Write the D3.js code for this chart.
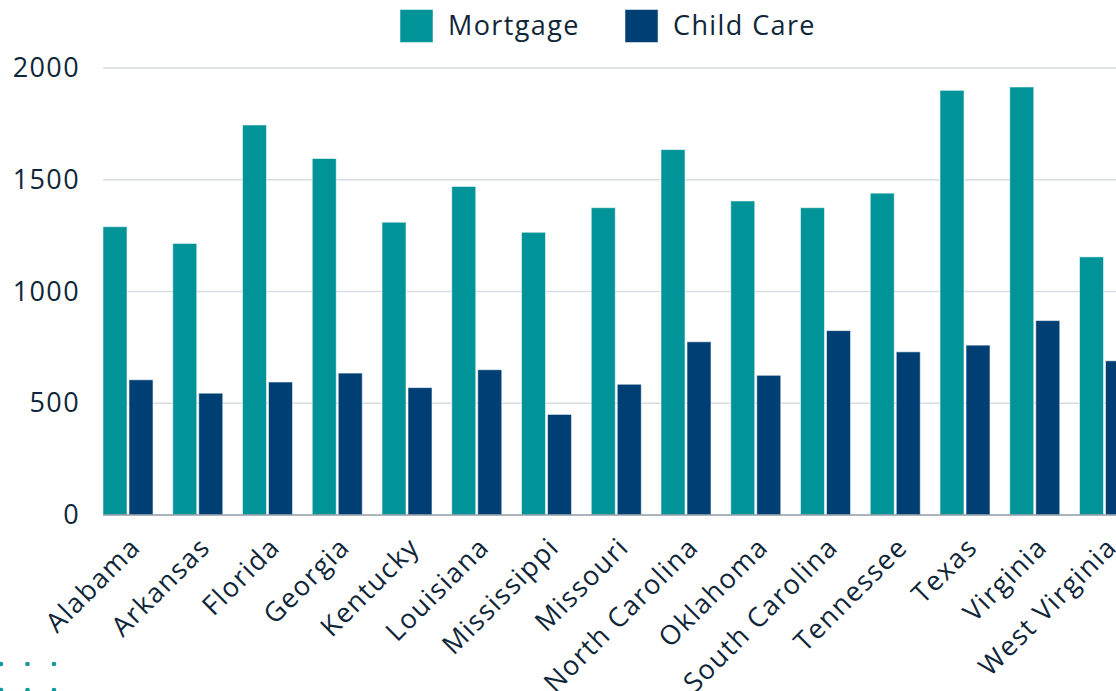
<!DOCTYPE html>
<html>
<head>
<meta charset="utf-8">
<script src="https://cdn.jsdelivr.net/npm/d3@7"></script>
<style>
  html, body { margin: 0; padding: 0; background: #ffffff; overflow: hidden; }
  svg { display: block; }
  text { font-family: "Open Sans", "DejaVu Sans", sans-serif; fill: #0f2639; }
</style>
</head>
<body>
<svg id="chart" width="1116" height="691"></svg>
<script>
// Monthly cost by state
const states = ["Alabama", "Arkansas", "Florida", "Georgia", "Kentucky", "Louisiana",
  "Mississippi", "Missouri", "North Carolina", "Oklahoma", "South Carolina",
  "Tennessee", "Texas", "Virginia", "West Virginia"];
const mortgage  = [1290, 1215, 1745, 1595, 1310, 1470, 1265, 1375, 1635, 1405, 1375, 1440, 1900, 1915, 1155];
const childCare = [605, 545, 595, 635, 570, 650, 450, 585, 775, 625, 825, 730, 760, 870, 690];
const seriesNames = ["Mortgage", "Child Care"];
const seriesColors = ["#009398", "#003f73"];
const yTicks = [0, 500, 1000, 1500, 2000];

const W = 1116, H = 691;
const plotLeft = 103, plotTop = 68, plotBottom = 515;
const step = 69.75, inner = 0.283;
const FONT = 27, SPACING = 1.4;

const svg = d3.select("#chart");

const x = d3.scaleBand()
  .domain(states)
  .range([plotLeft, plotLeft + step * (states.length - inner)])
  .paddingInner(inner)
  .paddingOuter(0);

const xs = d3.scaleBand()
  .domain(seriesNames)
  .range([0, x.bandwidth()])
  .paddingInner(0.077);

const y = d3.scaleLinear().domain([0, 2000]).range([plotBottom, plotTop]);

function styleText(sel) {
  sel.attr("font-size", FONT)
    .attr("font-weight", 500)
    .attr("letter-spacing", SPACING)
    .style("font-family", "'Open Sans', sans-serif")
    .attr("fill", "#0f2639");
}

// value labels
const yAxis = d3.axisLeft(y).tickValues(yTicks).tickFormat(d3.format("d")).tickSize(0).tickPadding(23);
const yG = svg.append("g").attr("transform", `translate(${plotLeft},0)`).call(yAxis);
yG.select(".domain").remove();
yG.selectAll("text").call(styleText);

// gridlines
svg.append("g").selectAll("line")
  .data(yTicks.filter(d => d > 0))
  .join("line")
  .attr("x1", plotLeft).attr("x2", W)
  .attr("y1", d => y(d)).attr("y2", d => y(d))
  .attr("stroke", "#d7dde2").attr("stroke-width", 1.5);

// bars
const rows = states.map((s, i) => ({ state: s, values: [mortgage[i], childCare[i]] }));
const groups = svg.append("g").selectAll("g")
  .data(rows)
  .join("g")
  .attr("transform", d => `translate(${x(d.state)},0)`);

groups.selectAll("rect")
  .data(d => d.values.map((v, k) => ({ key: seriesNames[k], value: v, k })))
  .join("rect")
  .attr("x", d => xs(d.key))
  .attr("width", xs.bandwidth())
  .attr("y", d => y(d.value))
  .attr("height", d => y(0) - y(d.value))
  .attr("fill", d => seriesColors[d.k])
  .attr("stroke", "rgba(255,255,255,0.55)")
  .attr("stroke-width", 1);

// baseline
svg.append("line")
  .attr("x1", plotLeft).attr("x2", W)
  .attr("y1", y(0)).attr("y2", y(0))
  .attr("stroke", "#8f9aa4").attr("stroke-width", 1.5);

// category labels
const xAxis = d3.axisBottom(x).tickSize(0).tickPadding(0);
const xG = svg.append("g").attr("transform", `translate(0,${plotBottom})`).call(xAxis);
xG.select(".domain").remove();
xG.selectAll("text")
  .call(styleText)
  .attr("text-anchor", "end")
  .attr("dy", null)
  .attr("transform", "translate(14,34) rotate(-45)");

// legend
const legend = svg.append("g");
const legendX = [400, 625];
seriesNames.forEach((name, i) => {
  legend.append("rect")
    .attr("x", legendX[i]).attr("y", 9.5)
    .attr("width", 33).attr("height", 33)
    .attr("fill", seriesColors[i])
    .attr("stroke", "rgba(255,255,255,0.5)");
  legend.append("text")
    .attr("x", legendX[i] + 48).attr("y", 24)
    .attr("dominant-baseline", "central")
    .call(styleText)
    .text(name);
});

// decorative dot grid, lower left
const dots = [];
for (let r = 0; r < 2; r++) for (let c = 0; c < 3; c++) dots.push([1 + c * 26.5, 664 + r * 26]);
svg.append("g").selectAll("circle")
  .data(dots)
  .join("circle")
  .attr("cx", d => d[0]).attr("cy", d => d[1]).attr("r", 2.3)
  .attr("fill", "#11999c");
</script>
</body>
</html>
